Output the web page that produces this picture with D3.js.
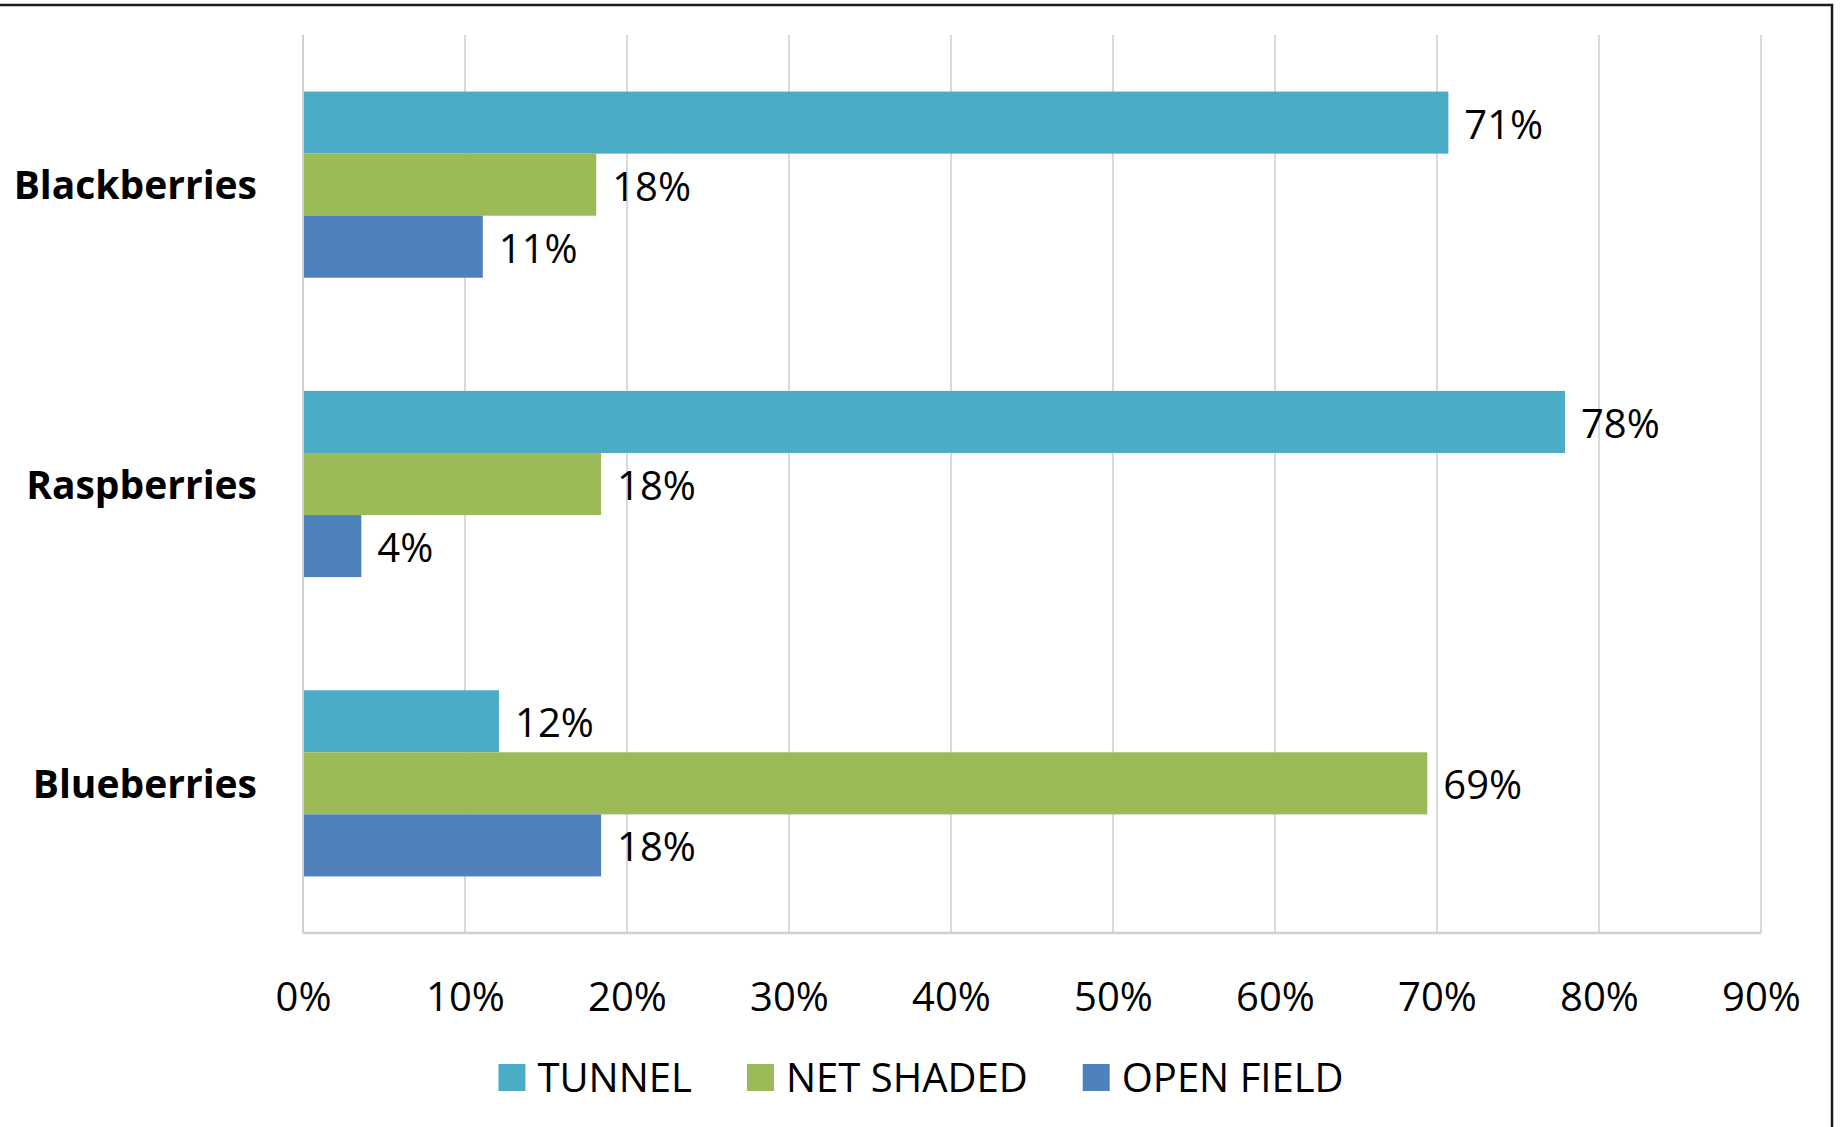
<!DOCTYPE html>
<html>
<head>
<meta charset="utf-8">
<script src="https://cdn.jsdelivr.net/npm/d3@7"></script>
<style>
  html, body { margin: 0; padding: 0; background: #fff; }
  svg { display: block; }
</style>
</head>
<body>
<svg id="chart" width="1841" height="1127"></svg>
<script>
const categories = ["Blackberries", "Raspberries", "Blueberries"];
const seriesNames = ["TUNNEL", "NET SHADED", "OPEN FIELD"];
const tunnel = [70.7, 77.9, 12.1];
const netShaded = [18.1, 18.4, 69.4];
const openField = [11.1, 3.6, 18.4];
const tickValues = [0, 10, 20, 30, 40, 50, 60, 70, 80, 90];
const colors = ["#4BACC6", "#9BBB59", "#4F81BD"];

const seriesValues = [tunnel, netShaded, openField];
const font = "'Open Sans', 'Liberation Sans', sans-serif";

const svg = d3.select("#chart");
const margin = { left: 303, right: 1761, top: 35, bottom: 933 };

// frame
svg.append("rect")
  .attr("x", -10).attr("y", 5)
  .attr("width", 1832 + 10).attr("height", 1200)
  .attr("fill", "none").attr("stroke", "#1a1a1a").attr("stroke-width", 2.5);

const x = d3.scaleLinear().domain([0, 90]).range([margin.left, margin.right]);
const y = d3.scaleBand().domain(categories).range([margin.top, margin.bottom])
  .paddingInner(0.378).paddingOuter(0.189);
const ySub = d3.scaleBand().domain(seriesNames).range([0, y.bandwidth()]);

// gridlines
const grid = svg.append("g");
grid.selectAll("line").data(tickValues).join("line")
  .attr("x1", d => x(d)).attr("x2", d => x(d))
  .attr("y1", margin.top).attr("y2", margin.bottom)
  .attr("stroke", "#d9d9d9").attr("stroke-width", 2);

// bottom axis line
svg.append("line")
  .attr("x1", x(0)).attr("x2", x(90))
  .attr("y1", margin.bottom).attr("y2", margin.bottom)
  .attr("stroke", "#d0d0d0").attr("stroke-width", 2.5);

// x axis tick labels
const xAxis = d3.axisBottom(x).tickValues(tickValues).tickFormat(d => d + "%").tickSize(0).tickPadding(0);
const gx = svg.append("g").attr("transform", `translate(0, ${margin.bottom})`).call(xAxis);
gx.select(".domain").remove();
gx.selectAll("text")
  .attr("y", 78).attr("dy", 0)
  .style("font-family", font).style("font-size", "40px").attr("fill", "#000");

// bars
const rows = [];
categories.forEach((c, i) => {
  seriesNames.forEach((s, j) => rows.push({ cat: c, series: s, value: seriesValues[j][i], color: colors[j] }));
});

const bars = svg.append("g");
bars.selectAll("rect").data(rows).join("rect")
  .attr("x", x(0))
  .attr("y", d => y(d.cat) + ySub(d.series))
  .attr("width", d => x(d.value) - x(0))
  .attr("height", ySub.bandwidth())
  .attr("fill", d => d.color);

// data labels
bars.selectAll("text").data(rows).join("text")
  .attr("x", d => x(d.value) + 16)
  .attr("y", d => y(d.cat) + ySub(d.series) + ySub.bandwidth() / 2)
  .attr("dy", "0.4em")
  .style("font-family", font).style("font-size", "40px").attr("fill", "#000")
  .text(d => Math.round(d.value) + "%");

// category labels
const yAxis = d3.axisLeft(y).tickSize(0).tickPadding(0);
const gy = svg.append("g").attr("transform", `translate(${margin.left}, 0)`).call(yAxis);
gy.select(".domain").remove();
gy.selectAll("text")
  .attr("x", -46).attr("dy", "0.38em")
  .style("font-family", font).style("font-size", "39px").style("font-weight", "bold").attr("fill", "#000");
// left axis line
svg.append("line")
  .attr("x1", x(0)).attr("x2", x(0))
  .attr("y1", margin.top).attr("y2", margin.bottom)
  .attr("stroke", "#d0d0d0").attr("stroke-width", 2);

// legend
const legend = svg.append("g");
const items = legend.selectAll("g").data(seriesNames).join("g");
items.append("rect").attr("width", 27).attr("height", 27).attr("y", 1064)
  .attr("fill", (d, i) => colors[i]);
items.append("text").attr("x", 39).attr("y", 1092)
  .style("font-family", font).style("font-size", "40px").attr("fill", "#000")
  .text(d => d);
const widths = [];
items.each(function () { widths.push(39 + d3.select(this).select("text").node().getComputedTextLength()); });
const gap = 55;
const total = d3.sum(widths) + gap * (widths.length - 1);
let cx = 921 - total / 2;
items.each(function (d, i) {
  d3.select(this).attr("transform", `translate(${cx}, 0)`);
  cx += widths[i] + gap;
});
</script>
</body>
</html>
